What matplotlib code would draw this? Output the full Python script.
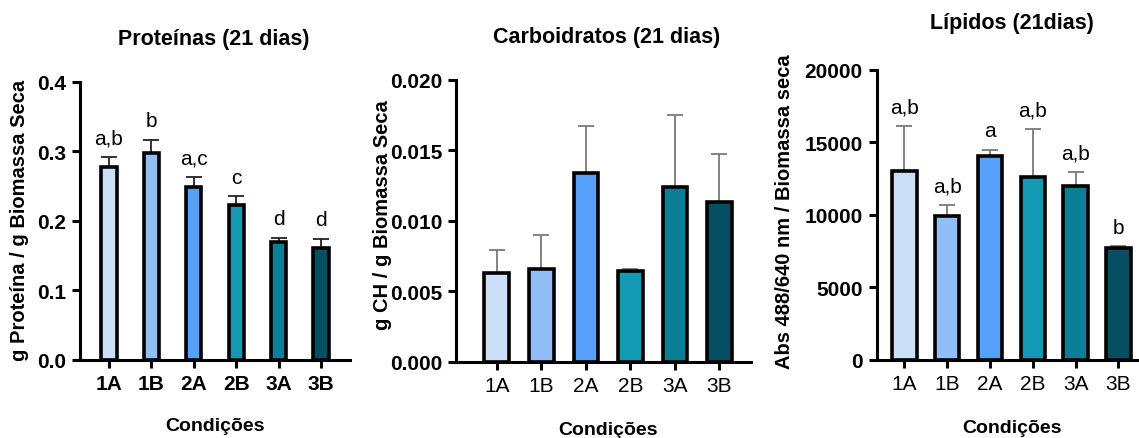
import numpy as np
import matplotlib
matplotlib.use("Agg")
import matplotlib.pyplot as plt

plt.rcParams['font.family'] = ['Liberation Sans', 'DejaVu Sans']

# data
conditions = ['1A', '1B', '2A', '2B', '3A', '3B']
bar_colors = ['#CADEF7', '#92BEF8', '#56A0FA', '#1499B4', '#0B7F96', '#064F62']

prot_mean = [0.277, 0.298, 0.248, 0.222, 0.169, 0.161]
prot_err = [0.015, 0.018, 0.015, 0.013, 0.006, 0.013]
prot_letters = ['a,b', 'b', 'a,c', 'c', 'd', 'd']

carb_mean = [0.0063, 0.0066, 0.0134, 0.0064, 0.0124, 0.0113]
carb_err = [0.0016, 0.0024, 0.0033, 0.0002, 0.0051, 0.0034]

lip_mean = [13030, 9930, 14070, 12580, 11950, 7680]
lip_err = [3100, 740, 410, 3330, 1010, 140]
lip_letters = ['a,b', 'a,b', 'a', 'a,b', 'a,b', 'b']

W, H = 1139, 439
fig = plt.figure(figsize=(W / 100, H / 100), dpi=100)


def px_axes(left, top, right, bottom):
    return fig.add_axes([left / W, 1 - bottom / H, (right - left) / W, (bottom - top) / H])


def draw_panel(ax, means, errs, width, ecolor, ylim, yticks, fmt, xlim, letters=None, xbold=True):
    x = np.arange(len(means))
    ax.errorbar(x, means, yerr=[np.zeros(len(errs)), errs], fmt='none',
                ecolor=ecolor, elinewidth=1.3, capsize=6, capthick=1.3, zorder=1)
    ax.bar(x, means, width=width, color=bar_colors, edgecolor='black',
           linewidth=2.6, zorder=2)
    ax.set_xlim(*xlim)
    ax.set_ylim(*ylim)
    ax.set_yticks(yticks)
    ax.set_yticklabels([fmt.format(v) for v in yticks], fontsize=15, fontweight='bold')
    ax.set_xticks(x)
    ax.set_xticklabels(conditions, fontsize=15,
                       fontweight='bold' if xbold else 'normal')
    for s in ['top', 'right']:
        ax.spines[s].set_visible(False)
    for s in ['left', 'bottom']:
        ax.spines[s].set_linewidth(2.2)
    ax.tick_params(width=2.2, length=6, pad=4)
    if letters:
        for xi, m, e, t in zip(x, means, errs, letters):
            ax.annotate(t, (xi, m + e), xytext=(0, 7), textcoords='offset points',
                        ha='center', va='bottom', fontsize=15)


# Proteinas
ax1 = px_axes(80, 82.6, 350, 361)
draw_panel(ax1, prot_mean, prot_err, 0.36, '#222222', (0, 0.4),
           [0.0, 0.1, 0.2, 0.3, 0.4], '{:.1f}', (-0.68, 5.68), prot_letters)
fig.text(214 / W, 1 - 40 / H, 'Proteínas (21 dias)', ha='center', va='center',
         fontsize=15.5, fontweight='bold')
fig.text(20 / W, 1 - 220 / H, 'g Proteína / g Biomassa Seca', rotation=90,
         ha='center', va='center', fontsize=14.5, fontweight='bold')
fig.text(215 / W, 1 - 427 / H, 'Condições', ha='center', va='center',
         fontsize=14, fontweight='bold')

# Carboidratos
ax2 = px_axes(456, 80.7, 751, 362.7)
draw_panel(ax2, carb_mean, carb_err, 0.55, '#7a7a7a', (0, 0.02),
           [0.0, 0.005, 0.010, 0.015, 0.020], '{:.3f}', (-0.915, 5.71), xbold=False)
fig.text(607 / W, 1 - 37 / H, 'Carboidratos (21 dias)', ha='center', va='center',
         fontsize=15.5, fontweight='bold')
fig.text(383 / W, 1 - 215 / H, 'g CH / g Biomassa Seca', rotation=90,
         ha='center', va='center', fontsize=14.5, fontweight='bold')
fig.text(608 / W, 1 - 431 / H, 'Condições', ha='center', va='center',
         fontsize=14, fontweight='bold')

# Lipidos
ax3 = px_axes(876.7, 70.7, 1139, 360.7)
draw_panel(ax3, lip_mean, lip_err, 0.57, '#7a7a7a', (0, 20000),
           [0, 5000, 10000, 15000, 20000], '{:d}', (-0.645, 5.48), lip_letters,
           xbold=False)
fig.text(1012 / W, 1 - 24 / H, 'Lípidos (21dias)', ha='center', va='center',
         fontsize=15.5, fontweight='bold')
fig.text(785 / W, 1 - 212 / H, 'Abs 488/640 nm / Biomassa seca', rotation=90,
         ha='center', va='center', fontsize=14.5, fontweight='bold')
fig.text(1012 / W, 1 - 429 / H, 'Condições', ha='center', va='center',
         fontsize=14, fontweight='bold')

fig.savefig('out.png', dpi=100)
